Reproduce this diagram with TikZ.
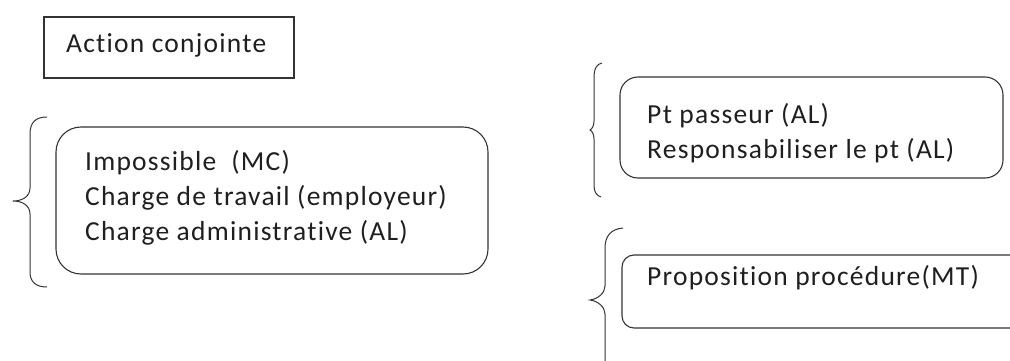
\documentclass[tikz,border=0pt]{standalone}
\usepackage{fontspec}
\setmainfont{Carlito}[LetterSpace=4.5, Ligatures={NoCommon}]
\begin{document}
\begin{tikzpicture}[x=1pt,y=-1pt,
  ink/.style={draw=black!80, line width=1.1pt},
  plainbox/.style={ink, rectangle, inner sep=0pt},
  roundbox/.style={ink, rectangle, inner sep=0pt},
  txt/.style={anchor=base west, inner sep=0pt, text=black!88, font=\fontsize{27.5}{34}\selectfont},
  brace/.style={ink, line width=1pt}]
  \useasboundingbox (0,0) rectangle (1010,361);
  \clip (0,0) rectangle (1010,361);

  % heading
  \node[plainbox, minimum width=250pt, minimum height=61pt] (head) at (169,47.5) {};
  \node[txt] (headtxt) at (66,53) {Action conjointe};

  % left group
  \node[roundbox, rounded corners=25pt, minimum width=432pt, minimum height=147pt] (left) at (272,200.5) {};
  \node[txt] (l1) at (85,170) {Impossible\ \ (MC)};
  \node[txt] (l2) at (85,205) {Charge de travail (employeur)};
  \node[txt] (l3) at (85,240.5) {Charge administrative (AL)};
  \draw[brace] (47,117) .. controls (36,117) and (30,122) .. (30,134) -- (30,188)
    .. controls (30,196) and (23,201) .. (13,201)
    .. controls (23,201) and (30,206) .. (30,214) -- (30,272)
    .. controls (30,282) and (36,287) .. (47,287);

  % upper right group
  \node[roundbox, rounded corners=18pt, minimum width=383pt, minimum height=101pt] (upper) at (811.5,127.5) {};
  \node[txt] (u1) at (647,124) {Pt passeur (AL)};
  \node[txt] (u2) at (647,158) {Responsabiliser le pt (AL)};
  \draw[brace] (602,63) .. controls (597,64) and (594,68) .. (594,78) -- (594,121)
    .. controls (594,126) and (592,129) .. (590,130)
    .. controls (592,131) and (594,134) .. (594,139) -- (594,186)
    .. controls (594,192) and (597,196) .. (601,197);

  % lower right group
  \node[roundbox, rounded corners=12pt, minimum width=408pt, minimum height=73pt] (lower) at (826,291.5) {};
  \node[txt] (p1) at (647,285) {Proposition procédure(MT)};
  \draw[brace] (623,228) .. controls (611,229) and (605,236) .. (605,248) -- (605,286)
    .. controls (605,293) and (598,299) .. (590,300)
    .. controls (598,301) and (605,307) .. (605,314) -- (605,370);
\end{tikzpicture}
\end{document}
